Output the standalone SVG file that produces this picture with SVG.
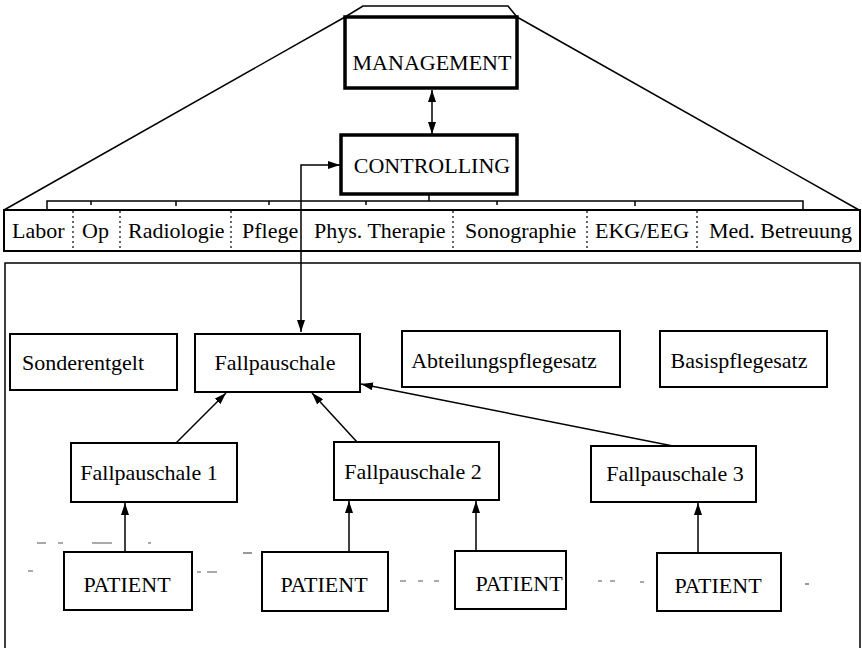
<svg xmlns="http://www.w3.org/2000/svg" width="862" height="648" viewBox="0 0 862 648">
  <style>
    text { font-family: "Liberation Serif", "Times New Roman", serif; font-size: 22px; fill: #000; }
    .c { text-anchor: middle; }
    .box { fill: #fff; stroke: #000; stroke-width: 2; }
    .thick { fill: #fff; stroke: #000; stroke-width: 3.5; }
    .ln { fill: none; stroke: #000; stroke-width: 1.5; }
    .sep { fill: none; stroke: #000; stroke-width: 1.2; stroke-dasharray: 2 3; }
    .frag { fill: none; stroke: #555; stroke-width: 1.2; }
  </style>
  <defs>
    <marker id="ah" viewBox="0 0 12 8" refX="12" refY="4" markerWidth="12" markerHeight="8" markerUnits="userSpaceOnUse" orient="auto-start-reverse">
      <path d="M0,0 L12,4 L0,8 z" fill="#000"/>
    </marker>
  </defs>
  <rect width="862" height="648" fill="#fff"/>

  <!-- pyramid outline -->
  <g id="pyramid" class="ln">
    <path d="M345,17 L363,6 L508,6 L517,17"/>
    <path d="M345,17 L4,210"/>
    <path d="M517,17 L859,210"/>
  </g>

  <!-- comb linking CONTROLLING to the departments -->
  <g id="bracket" class="ln">
    <path d="M47,209 V201 H803 V209"/>
    <path d="M429,194 V201"/>
    <path d="M91,201 V205 M176,201 V206 M269,201 V205 M366,201 V205 M497,201 V205 M635,201 V206"/>
  </g>

  <g id="management">
    <rect class="thick" x="345" y="17" width="172" height="71"/>
    <text class="c" x="432" y="70">MANAGEMENT</text>
  </g>
  <g id="controlling">
    <rect class="thick" x="341" y="135" width="176" height="59"/>
    <text class="c" x="432" y="173">CONTROLLING</text>
  </g>

  <!-- department bar -->
  <g id="departments">
    <rect class="box" x="4" y="210" width="856" height="41"/>
    <path class="sep" d="M73,211 V250 M120,211 V250 M231,211 V250 M453,211 V250 M587,211 V250 M697,211 V250"/>
    <text x="12" y="238">Labor</text>
    <text x="82" y="238">Op</text>
    <text x="128" y="238">Radiologie</text>
    <text x="242" y="238">Pflege</text>
    <text x="314" y="238">Phys. Therapie</text>
    <text x="465" y="238">Sonographie</text>
    <text x="595" y="238">EKG/EEG</text>
    <text x="709" y="238">Med. Betreuung</text>
  </g>

  <!-- lower frame -->
  <g id="frame">
    <path class="ln" d="M5,648 V263 H860 V648" stroke-width="2"/>
  </g>

  <g id="sonderentgelt">
    <rect class="box" x="10" y="334" width="167" height="56"/>
    <text class="c" x="83" y="370">Sonderentgelt</text>
  </g>
  <g id="fallpauschale">
    <rect class="box" x="195" y="334" width="165" height="58"/>
    <text class="c" x="275" y="370">Fallpauschale</text>
  </g>
  <g id="abteilungspflegesatz">
    <rect class="box" x="402" y="331" width="218" height="56"/>
    <text class="c" x="504" y="368">Abteilungspflegesatz</text>
  </g>
  <g id="basispflegesatz">
    <rect class="box" x="660" y="331" width="167" height="56"/>
    <text class="c" x="739" y="368">Basispflegesatz</text>
  </g>

  <g id="fallpauschale1">
    <rect class="box" x="71" y="443" width="166" height="59"/>
    <text class="c" x="149" y="480">Fallpauschale 1</text>
  </g>
  <g id="fallpauschale2">
    <rect class="box" x="334" y="442" width="165" height="58"/>
    <text class="c" x="413" y="479">Fallpauschale 2</text>
  </g>
  <g id="fallpauschale3">
    <rect class="box" x="591" y="446" width="165" height="56"/>
    <text class="c" x="675" y="481">Fallpauschale 3</text>
  </g>

  <g id="patient1">
    <rect class="box" x="64" y="552" width="128" height="58"/>
    <text class="c" x="127" y="592">PATIENT</text>
  </g>
  <g id="patient2">
    <rect class="box" x="262" y="552" width="126" height="59"/>
    <text class="c" x="324" y="592">PATIENT</text>
  </g>
  <g id="patient3">
    <rect class="box" x="455" y="551" width="111" height="58"/>
    <text class="c" x="519" y="591">PATIENT</text>
  </g>
  <g id="patient4">
    <rect class="box" x="657" y="553" width="124" height="58"/>
    <text class="c" x="718" y="593">PATIENT</text>
  </g>

  <!-- broken dotted traces between the patients -->
  <g id="traces" class="frag">
    <path d="M37,543 h9 M58,543 h5 M92,543 h20 M148,543 h3"/>
    <path d="M28,571 h5 M197,572 h4 M207,572 h10"/>
    <path d="M243,553 h9"/>
    <path d="M400,581 h6 M418,581 h5 M434,581 h5"/>
    <path d="M598,581 h4 M610,581 h5 M640,582 h4"/>
    <path d="M805,584 h4"/>
  </g>

  <!-- connectors -->
  <g id="connectors" class="ln">
    <path d="M432,90 V134" marker-start="url(#ah)" marker-end="url(#ah)"/>
    <path d="M301,332 V165 H340" marker-start="url(#ah)" marker-end="url(#ah)"/>
    <path d="M176,443 L226,393" marker-end="url(#ah)"/>
    <path d="M357,442 L312,393" marker-end="url(#ah)"/>
    <path d="M673,446 L361,384" marker-end="url(#ah)"/>
    <path d="M125,552 V503" marker-end="url(#ah)"/>
    <path d="M349,552 V501" marker-end="url(#ah)"/>
    <path d="M476,551 V501" marker-end="url(#ah)"/>
    <path d="M698,553 V503" marker-end="url(#ah)"/>
  </g>
</svg>
